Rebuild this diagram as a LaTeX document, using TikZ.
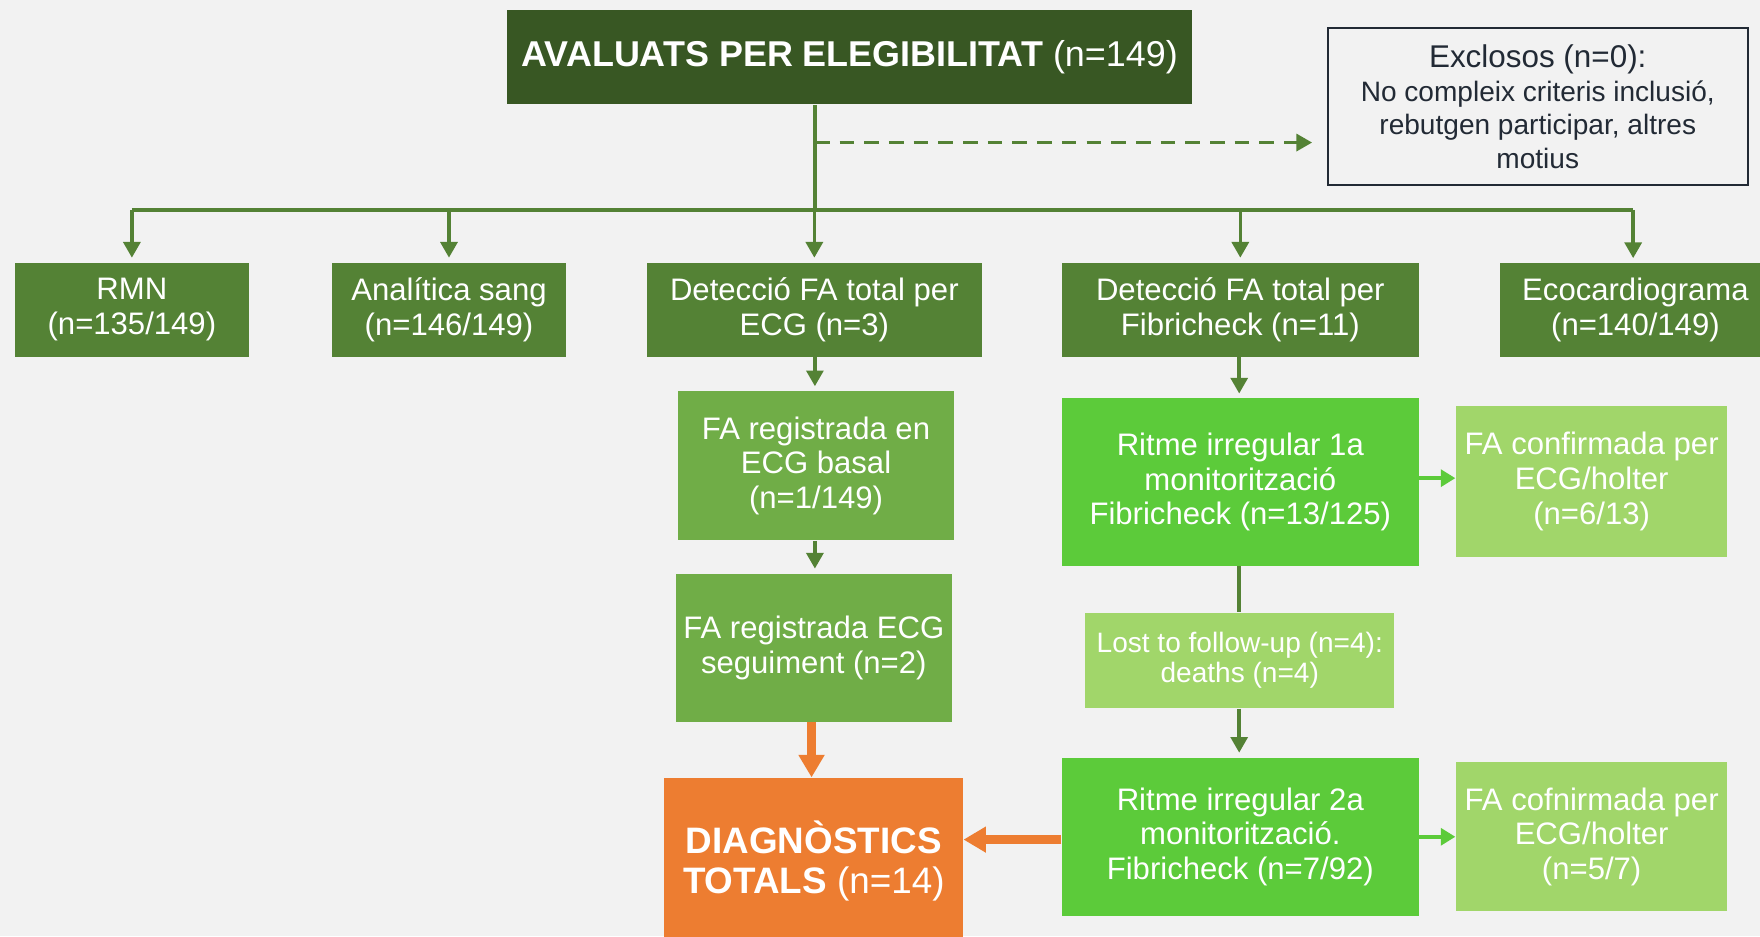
\documentclass[tikz,border=0pt]{standalone}
\usepackage{fontspec}
\setmainfont{Liberation Sans}
\usepackage{tikz}
\usetikzlibrary{arrows.meta,positioning}
\definecolor{bg}{HTML}{F2F2F2}
\definecolor{darkgr}{HTML}{385723}
\definecolor{midgr}{HTML}{548235}
\definecolor{ecggr}{HTML}{70AD47}
\definecolor{brightgr}{HTML}{5CCB3A}
\definecolor{lightgr}{HTML}{A1D66A}
\definecolor{orang}{HTML}{ED7D31}
\definecolor{ink}{HTML}{222A35}

\begin{document}
\begin{tikzpicture}[x=0.5pt,y=-0.5pt,
	box/.style={rectangle,inner sep=0pt,text=white,align=center,font=\fontsize{13.85}{15.5}\selectfont},
	flow/.style={draw=midgr,line width=1.6pt,shorten >=2pt,-{Triangle[length=7pt,width=7.5pt]}},
	link/.style={draw=midgr,line width=1.6pt},
	sidearrow/.style={draw=brightgr,line width=2pt,-{Triangle[length=6.5pt,width=7.5pt]}},
	hot/.style={draw=orang,line width=4pt,-{Triangle[length=10pt,width=11pt]}}]
	\fill[bg] (0,0) rectangle (1568,834);
	\useasboundingbox (0,0) rectangle (1568,834);
	% top
	\node[box,fill=darkgr,minimum width=305pt,minimum height=42pt,font=\fontsize{16}{17}\selectfont] (top) at (757,51) {\textbf{AVALUATS PER ELEGIBILITAT} (n=149)};
	\node[box,fill=bg,draw=ink,line width=1pt,text=ink,minimum width=187pt,minimum height=70pt,font=\fontsize{12.5}{15}\selectfont] (excl) at (1370,95) {{\fontsize{14}{15}\selectfont Exclosos (n=0):}\\No compleix criteris inclusió,\\rebutgen participar, altres\\motius};
	% first row
	\node[box,fill=midgr,minimum width=104.5pt,minimum height=42pt] (rmn) at (117.5,276) {RMN\\(n=135/149)};
	\node[box,fill=midgr,minimum width=104pt,minimum height=42pt] (sang) at (400,276) {Analítica sang\\(n=146/149)};
	\node[box,fill=midgr,minimum width=149.5pt,minimum height=42pt] (ecg) at (725.5,276) {Detecció FA total per\\ECG (n=3)};
	\node[box,fill=midgr,minimum width=159pt,minimum height=42pt] (fib) at (1105,276) {Detecció FA total per\\Fibricheck (n=11)};
	\node[box,fill=midgr,minimum width=121pt,minimum height=42pt] (eco) at (1457,276) {Ecocardiograma\\(n=140/149)};
	% ECG column
	\node[box,fill=ecggr,minimum width=123pt,minimum height=66.5pt] (basal) at (727,415) {FA registrada en\\ECG basal\\(n=1/149)};
	\node[box,fill=ecggr,minimum width=123pt,minimum height=66pt] (seg) at (725,577) {FA registrada ECG\\seguiment (n=2)};
	\node[box,fill=orang,minimum width=133pt,minimum height=74pt,font=\fontsize{16.4}{18}\selectfont] (diag) at (725,767) {\textbf{DIAGNÒSTICS}\\\textbf{TOTALS} (n=14)};
	% Fibricheck column
	\node[box,fill=brightgr,minimum width=159pt,minimum height=74.5pt] (rit1) at (1105,429.5) {Ritme irregular 1a\\monitorització\\Fibricheck (n=13/125)};
	\node[box,fill=lightgr,minimum width=121pt,minimum height=67pt] (conf1) at (1418,429) {FA confirmada per\\ECG/holter\\(n=6/13)};
	\node[box,fill=lightgr,minimum width=137.5pt,minimum height=42.5pt,font=\fontsize{12.5}{13.5}\selectfont] (lost) at (1104.5,588.5) {Lost to follow-up (n=4):\\deaths (n=4)};
	\node[box,fill=brightgr,minimum width=159pt,minimum height=70.5pt] (rit2) at (1105,745.5) {Ritme irregular 2a\\monitorització.\\Fibricheck (n=7/92)};
	\node[box,fill=lightgr,minimum width=121pt,minimum height=66.5pt] (conf2) at (1418,745.5) {FA cofnirmada per\\ECG/holter\\(n=5/7)};
	% connectors
	\coordinate (bus) at (726,187);
	\coordinate (tap) at (726,127);
	\draw[link] (top.south -| bus) -- (bus);
	\draw[link] (bus -| rmn.north) -- (bus -| 1455,0);
	\draw[flow,dashed,dash pattern=on 6.5pt off 4.5pt,shorten >=6.5pt] (tap) -- (tap -| excl.west);
	\foreach \n in {rmn,sang,ecg,fib}
		\draw[flow] (bus -| \n.north) -- (\n.north);
	\draw[flow] (bus -| 1455,0) -- (1455,234);
	\draw[flow] (ecg.south -| 726,0) -- (basal.north -| 726,0);
	\draw[flow] (basal.south -| 726,0) -- (seg.north -| 726,0);
	\draw[hot] (seg.south -| 723,0) -- (diag.north -| 723,0);
	\draw[flow] (fib.south -| 1104,0) -- (rit1.north -| 1104,0);
	\draw[link] (rit1.south -| 1104,0) -- (lost.north -| 1104,0);
	\draw[flow] (lost.south -| 1104,0) -- (rit2.north -| 1104,0);
	\draw[sidearrow] (rit1.east |- 0,426) -- (conf1.west |- 0,426);
	\draw[sidearrow] (rit2.east) -- (rit2.east -| conf2.west);
	\draw[hot] (rit2.west |- 0,748) -- (diag.east |- 0,748);
\end{tikzpicture}
\end{document}
